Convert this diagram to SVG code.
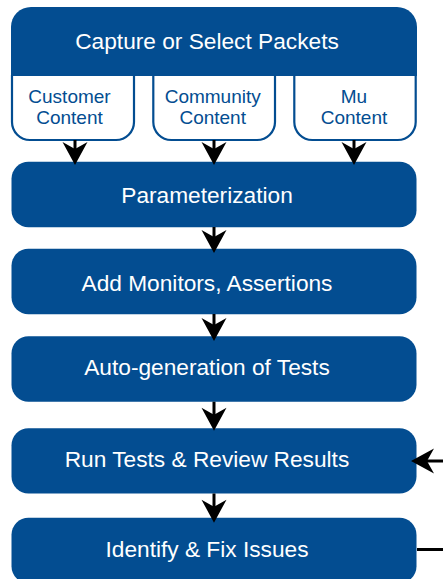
<svg xmlns="http://www.w3.org/2000/svg" width="443" height="579" viewBox="0 0 443 579">
  <style>
    .box { fill: #034d91; }
    .sub { fill: #ffffff; stroke: #034d91; stroke-width: 2.2; }
    .t { font-family: "Liberation Sans", Arial, sans-serif; font-size: 22.7px; fill: #ffffff; text-anchor: middle; }
    .st { font-family: "Liberation Sans", Arial, sans-serif; font-size: 19px; fill: #034d91; text-anchor: middle; }
    .c { fill: none; stroke: #000000; stroke-width: 3; }
  </style>
  <defs>
    <marker id="ah" markerUnits="userSpaceOnUse" viewBox="-24 -13 25 26" refX="-14" refY="0" markerWidth="25" markerHeight="26" orient="auto">
      <path d="M0,0 L-23,-12.5 L-16,0 L-23,12.5 Z" fill="#000000"/>
    </marker>
  </defs>
  <rect width="443" height="579" fill="#ffffff"/>

  <g id="capture">
    <path class="sub" d="M12,75 V122 A18,18 0 0 0 30,140 H116 A18,18 0 0 0 134,122 V75"/>
    <path class="sub" d="M153.3,75 V122 A18,18 0 0 0 171.3,140 H257 A18,18 0 0 0 275,122 V75"/>
    <path class="sub" d="M294.3,75 V122 A18,18 0 0 0 312.3,140 H397.7 A18,18 0 0 0 415.7,122 V75"/>
    <path class="box" d="M11,76 V27 A20,20 0 0 1 31,7 H397 A20,20 0 0 1 417,27 V76 Z"/>
    <text class="t" x="207" y="49">Capture or Select Packets</text>
  </g>
  <g id="customer">
    <text class="st" x="69.5" y="102.5">Customer</text>
    <text class="st" x="69.5" y="124.3">Content</text>
  </g>
  <g id="community">
    <text class="st" x="212.7" y="102.5">Community</text>
    <text class="st" x="212.7" y="124.3">Content</text>
  </g>
  <g id="mu">
    <text class="st" x="354" y="102.5">Mu</text>
    <text class="st" x="354" y="124.3">Content</text>
  </g>

  <g id="param">
    <rect class="box" x="11.5" y="161.7" width="405" height="65.6" rx="17"/>
    <text class="t" x="207" y="203">Parameterization</text>
  </g>
  <g id="monitors">
    <rect class="box" x="11.5" y="248.7" width="405" height="65.6" rx="17"/>
    <text class="t" x="207" y="290.5">Add Monitors, Assertions</text>
  </g>
  <g id="autogen">
    <rect class="box" x="11.5" y="336.2" width="405" height="65.6" rx="17"/>
    <text class="t" x="207" y="374.5">Auto-generation of Tests</text>
  </g>
  <g id="run">
    <rect class="box" x="11.5" y="428.3" width="405" height="65.2" rx="17"/>
    <text class="t" x="207" y="467">Run Tests &amp; Review Results</text>
  </g>
  <g id="identify">
    <rect class="box" x="11.5" y="517.7" width="405" height="65.6" rx="17"/>
    <text class="t" x="207" y="556.5">Identify &amp; Fix Issues</text>
  </g>

  <g id="connectors">
    <path class="c" d="M75,140 V151" marker-end="url(#ah)"/>
    <path class="c" d="M214,140 V151" marker-end="url(#ah)"/>
    <path class="c" d="M354,140 V151" marker-end="url(#ah)"/>
    <path class="c" d="M214,227 V239" marker-end="url(#ah)"/>
    <path class="c" d="M214,314 V327" marker-end="url(#ah)"/>
    <path class="c" d="M214,401.7 V416.7" marker-end="url(#ah)"/>
    <path class="c" d="M214,493.5 V508.7" marker-end="url(#ah)"/>
    <path class="c" d="M417,549.5 H460 V461 H425" stroke-width="2.5" marker-end="url(#ah)"/>
  </g>
</svg>
